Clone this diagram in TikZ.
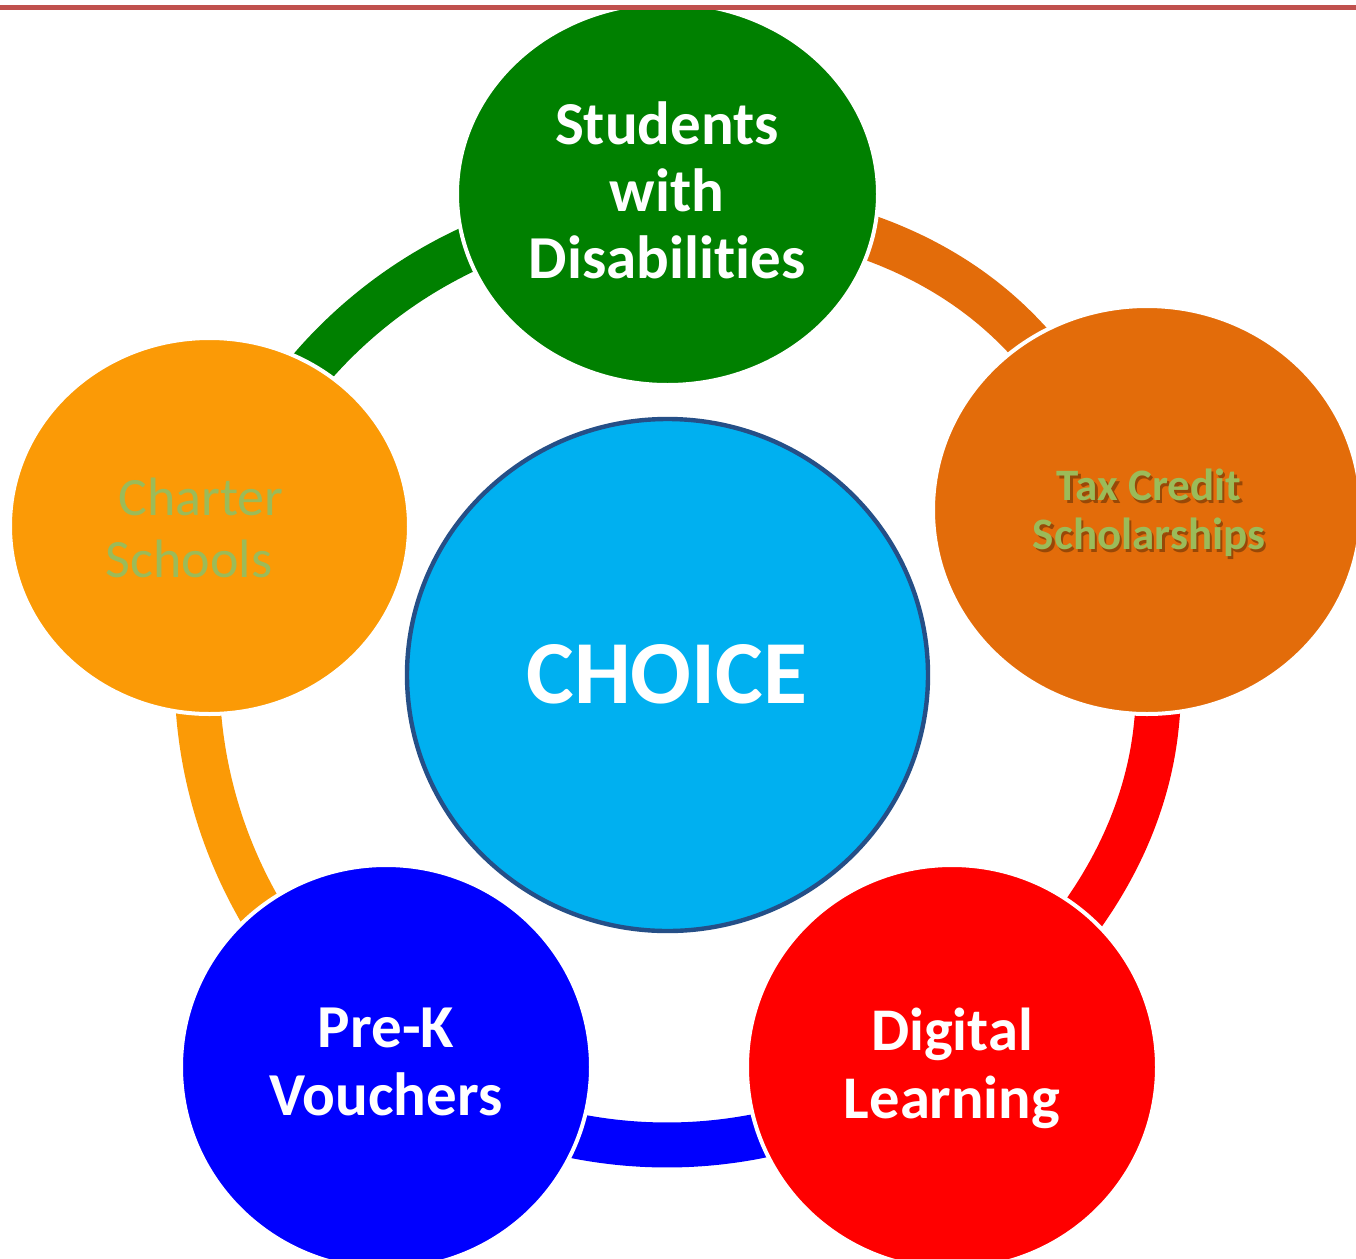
\documentclass[tikz,border=0pt]{standalone}
\usepackage{fontspec}
\setmainfont{Carlito}[Ligatures=NoCommon]
\usetikzlibrary{shapes.geometric,calc}
\definecolor{cgreen}{HTML}{008000}
\definecolor{cbrown}{HTML}{E36C0A}
\definecolor{cred}{HTML}{FF0000}
\definecolor{cblue}{HTML}{0000FF}
\definecolor{corange}{HTML}{FB9A06}
\definecolor{ccyan}{HTML}{00B0F0}
\definecolor{cborder}{HTML}{254F87}
\definecolor{ctext}{HTML}{9BBB59}
\definecolor{ctopline}{HTML}{C0504D}
\begin{document}
\begin{tikzpicture}[x=0.5pt,y=-0.5pt,
  declare function={
    bumpf(\d) = (\d<25) ? 1 : ((\d<70) ? (cos(2*(\d-25)))^2 : 0);
    ringr(\a) = 470 + 22*bumpf(abs(\a-19));
    ringx(\a) = 667 + ringr(\a)*cos(\a);
    ringy(\a) = 675 - ringr(\a)*sin(\a);
  },
  seg/.style={line width=22.5pt},
  bubble/.style={ellipse, draw=white, line width=2pt, inner sep=0pt},
  lbl/.style={align=center, text=white, inner sep=0pt}]
\useasboundingbox (0,0) rectangle (1356,1259);
\clip (0,0) rectangle (1356,1259);
\fill[white] (0,0) rectangle (1356,1259);
\coordinate (c) at (667,675);
% ring segments (page angles, counter-clockwise from east)
\draw[seg,cgreen]  plot[smooth, domain=90:162, samples=40]  ({ringx(\x)},{ringy(\x)});
\draw[seg,cbrown]  plot[smooth, domain=19:90, samples=40]   ({ringx(\x)},{ringy(\x)});
\draw[seg,cred]    plot[smooth, domain=-54:19, samples=40]  ({ringx(\x)},{ringy(\x)});
\draw[seg,cblue]   plot[smooth, domain=-126:-54, samples=40] ({ringx(\x)},{ringy(\x)});
\draw[seg,corange] plot[smooth, domain=-198:-126, samples=40] ({ringx(\x)},{ringy(\x)});
% center
\node[ellipse, fill=ccyan, draw=cborder, line width=2.2pt, inner sep=0pt,
      minimum width=260.5pt, minimum height=256pt] (choice) at (667.5,675) {};
\node[lbl, anchor=base, font=\bfseries\fontsize{45pt}{54pt}\selectfont] (choicet) at (667,703) {CHOICE};
% outer bubbles
\node[bubble, fill=cgreen, minimum width=210.5pt, minimum height=191pt] (sd) at (667.5,194) {};
\node[bubble, fill=cbrown, minimum width=214pt, minimum height=204pt] (tc) at (1147,510) {};
\node[bubble, fill=cred, minimum width=205pt, minimum height=202pt] (dl) at (952,1067) {};
\node[bubble, fill=cblue, minimum width=205pt, minimum height=202pt] (pk) at (386,1067) {};
\node[bubble, fill=corange, minimum width=199.5pt, minimum height=188pt] (cs) at (209.5,526) {};
% labels
\node[lbl, font=\bfseries\fontsize{30.5pt}{33.5pt}\selectfont] (sdt) at (667,190) {Students\\with\\Disabilities};
\node[lbl, text=black!55!cbrown, opacity=0.6, font=\bfseries\fontsize{22.5pt}{24.5pt}\selectfont] (tcs) at (1151.5,515.5) {Tax Credit\\Scholarships};
\node[lbl, text=ctext, font=\bfseries\fontsize{22.5pt}{24.5pt}\selectfont] (tct) at (1149,512.5) {Tax Credit\\Scholarships};
\node[lbl, font=\bfseries\fontsize{30.3pt}{34pt}\selectfont] (dlt) at (952,1068) {Digital\\Learning};
\node[lbl, font=\bfseries\fontsize{30.5pt}{34pt}\selectfont] (pkt) at (386,1062) {Pre-K\\Vouchers};
\node[lbl, text=ctext, font=\fontsize{27pt}{31pt}\selectfont] (cst) at (201,528) {Charter\\Schools\rule{12pt}{0pt}};
% top rule
\draw[ctopline, line width=2.5pt] (0,7) -- (1356,7);
\end{tikzpicture}
\end{document}
